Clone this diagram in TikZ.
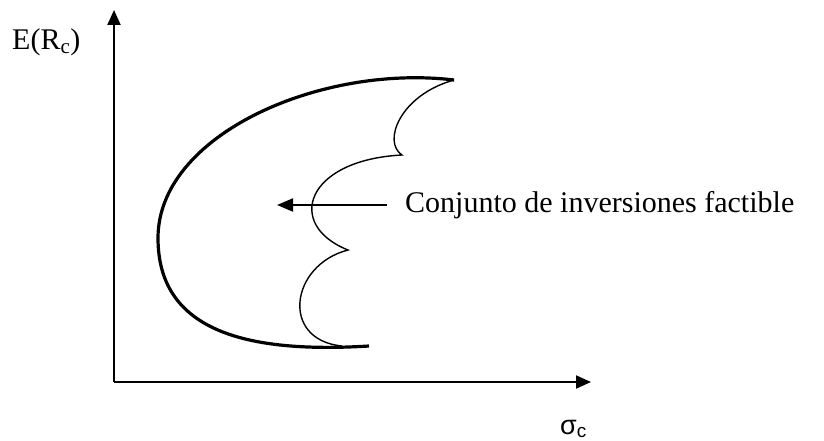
\documentclass[tikz,border=0pt]{standalone}
\usepackage{fontspec}
\setmainfont{Liberation Serif}
\newfontfamily\sigmafont{Liberation Sans}
\usetikzlibrary{arrows.meta}
\tikzset{
  axis/.style={line width=2pt, -{Triangle[length=15pt,width=13pt]}},
  frontier/.style={line width=3.2pt},
  feasible/.style={line width=1.4pt},
  pointer/.style={line width=2pt, -{Triangle[length=16pt,width=13pt]}},
  lbl/.style={font=\fontsize{30}{34}\selectfont, inner sep=0pt}
}
\begin{document}
\begin{tikzpicture}[x=1pt,y=-1pt]
  \useasboundingbox (0,0) rectangle (824,441);
  % ejes
  \coordinate (O) at (114,382);
  \coordinate (ytop) at (114,10);
  \coordinate (xend) at (591,382);
  \draw[axis] (O) -- (ytop);
  \draw[axis] (O) -- (xend);
  \node[lbl, anchor=base west] (ylab) at (12,50) {E(R\textsubscript{c})};
  \node[lbl, anchor=base west, font=\sigmafont\fontsize{27}{30}\selectfont] (xlab) at (560,434) {σ\textsubscript{c}};
  % frontera y conjunto factible
  \coordinate (top) at (454,80);
  \coordinate (bot) at (369,346);
  \draw[frontier] (top) .. controls (320,64) and (158,135) .. (158,238)
                        .. controls (158,328) and (240,354) .. (bot);
  \coordinate (c1) at (402,155);
  \coordinate (c2) at (348,250);
  \coordinate (j) at (342,346);
  \draw[feasible] (top) .. controls (400,95) and (382,142) .. (c1)
                        .. controls (305,160) and (285,225) .. (c2)
                        .. controls (290,265) and (280,340) .. (j);
  % etiqueta
  \node[lbl, anchor=west] (conj) at (405,205) {Conjunto de inversiones factible};
  \coordinate (tip) at (277,205);
  \draw[pointer] ([xshift=-18pt]conj.west) -- (tip);
\end{tikzpicture}
\end{document}
